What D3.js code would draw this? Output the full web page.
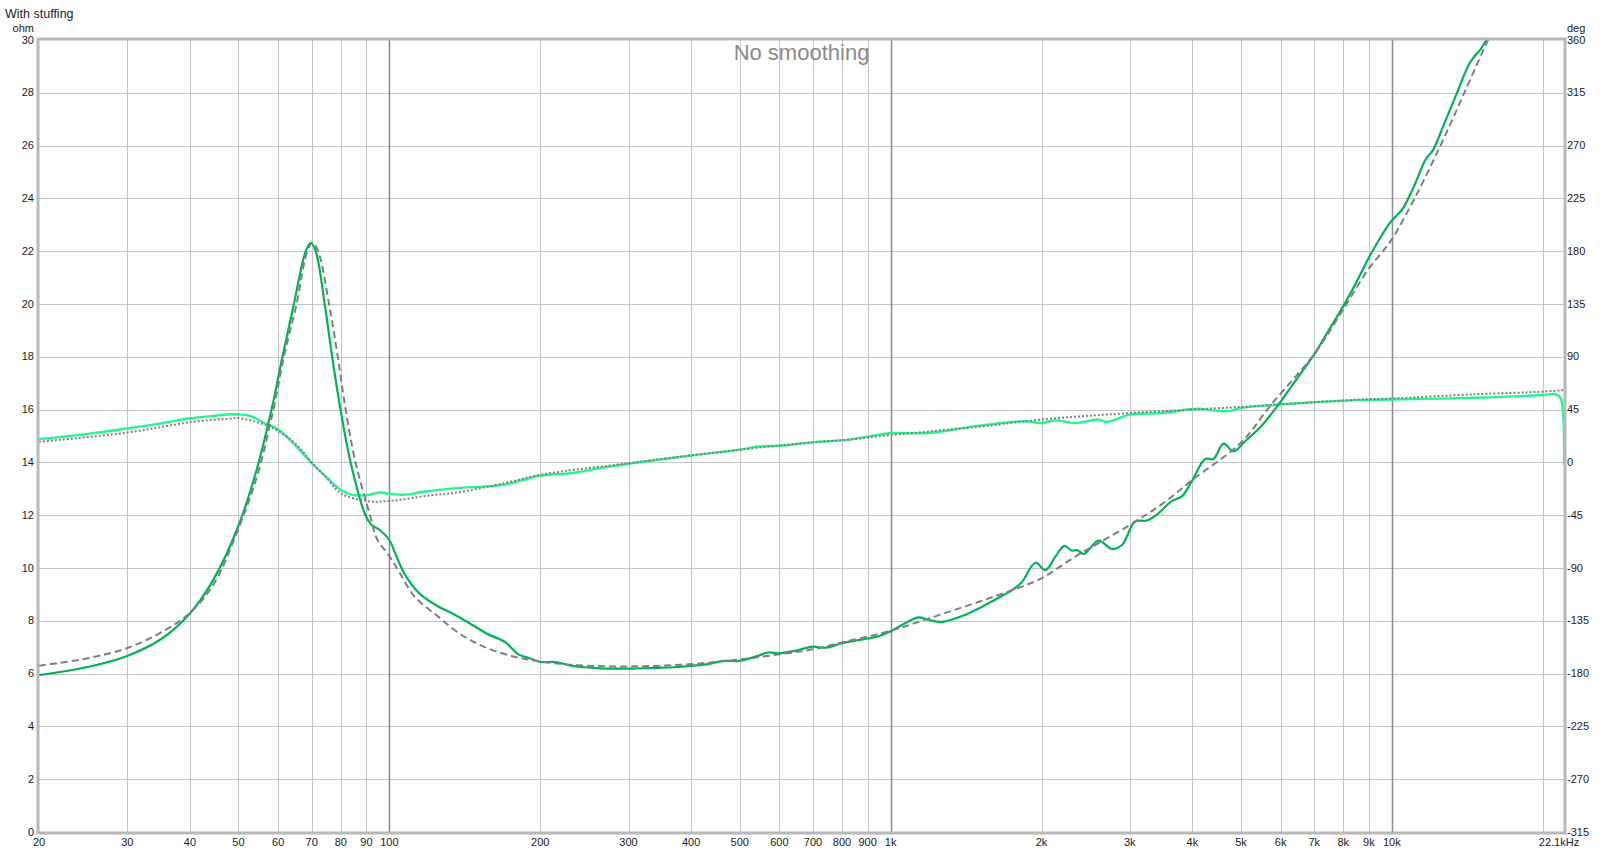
<!DOCTYPE html>
<html>
<head>
<meta charset="utf-8">
<script src="https://cdn.jsdelivr.net/npm/d3@7"></script>
<style>
  html, body { margin: 0; padding: 0; background: #fff; }
  svg { display: block; font-family: "Liberation Sans", Arial, sans-serif; }
</style>
</head>
<body>
<svg id="chart" width="1603" height="853"></svg>
<script>
// ---------- data ----------
const magFreq = [20,25,30,35,40,44.6,50,54.5,58.2,61.2,64.5,68.1,69.7,71.3,74.3,76.9,79.9,83.7,89.6,92,95.7,100,103,106.7,111,115.3,124.7,134.7,145.6,157.3,170,180.8,189.4,200,214.4,231.7,250.4,270.6,300,341.5,369,400,431,466,500,543,569,600,643,700,741,800,900,948,1000,1071,1139,1192,1267,1389,1499,1619,1747,1830,1944,2036,2132,2221,2300,2355,2428,2600,2764,2894,3075,3245,3427,3640,3810,3987,4242,4407,4616,4831,5095,5500,5946,6450,7000,7400,8000,8490,9000,9450,9820,10000,10500,11010,11700,12070,12640,13430,14280,14720,14990,15460,16000];
const magOhm = [5.94,6.25,6.67,7.3,8.28,9.57,11.6,13.8,16.0,18.0,20.0,22.0,22.32,22.0,20.0,18.0,16.0,14.0,12.0,11.65,11.44,11.06,10.5,9.85,9.35,9.0,8.56,8.24,7.87,7.49,7.2,6.73,6.6,6.44,6.44,6.29,6.23,6.19,6.19,6.22,6.24,6.29,6.36,6.48,6.48,6.67,6.8,6.77,6.86,7.02,6.98,7.15,7.33,7.42,7.6,7.92,8.13,8.03,7.96,8.18,8.47,8.81,9.16,9.48,10.2,9.92,10.43,10.84,10.66,10.68,10.53,11.04,10.72,10.87,11.76,11.8,12.08,12.54,12.71,13.28,14.13,14.13,14.71,14.42,14.8,15.39,16.2,17.14,18.09,18.85,19.92,20.81,21.76,22.46,22.97,23.16,23.6,24.36,25.5,25.82,26.7,27.91,29.11,29.45,29.62,30.04,30.8];

const modelFreq = [20,25,30,35,40,44.6,50,54.5,58.7,61.6,65.3,68.6,70.3,72.1,75.8,78.9,81.8,85.6,91.5,94.5,100,105,112,124.7,137,152.5,175,200,231.7,300,400,500,600,700,800,1000,1192,1499,1747,2000,2335,3000,3500,4000,5000,5750,7000,8000,9000,9600,10000,11100,12500,13950,15550,16500];
const modelOhm = [6.3,6.58,6.97,7.55,8.3,9.38,11.5,13.5,16.0,18.0,20.0,22.0,22.32,22.0,20.0,18.0,16.0,14.0,12.0,11.1,10.45,9.8,8.94,8.18,7.56,7.06,6.67,6.46,6.33,6.27,6.36,6.54,6.73,6.92,7.18,7.62,8.09,8.72,9.16,9.61,10.43,11.63,12.46,13.34,14.75,16.2,18.1,19.8,21.35,22.0,22.45,24.0,26.0,28.0,30.0,31.0];

const phaseFreq = [20,25,30,35,40,45,48.2,50,52.9,56.2,60,65.2,70,75.3,80,84.6,90,95.7,100,105,110.6,115,121.5,134.7,170,183.6,200,231.7,270.6,300,400,500,543,600,700,826,948,1000,1192,1499,1858,2000,2132,2335,2600,2700,3000,3470,4100,4400,4720,5000,5950,8620,10000,14720,20000,21200,21700,22050];
const phaseDeg = [19.8,24.3,29.0,33.3,37.6,39.8,41.0,41.0,39.4,33.8,28.1,13.7,-0.7,-13.5,-23.6,-27.9,-27.9,-25.7,-26.8,-27.5,-27.0,-25.4,-24.1,-22.1,-18.9,-15.3,-11.3,-9.0,-4.0,-1.1,5.9,10.8,13.5,14.2,17.1,19.4,23.6,25.0,25.0,31.3,35.1,33.5,35.8,33.5,36.5,34.4,40.7,42.1,45.7,44.3,43.7,46.4,49.3,53.1,53.6,55.1,57.4,58.1,55.0,-2.0];

const phaseModelFreq = [20,30,40,48.2,50,56.2,60,65,70,75,80,90,100,121.5,134.7,170,200,300,400,500,700,826,948,1500,2000,3000,5000,8620,10000,14720,20000,22050];
const phaseModelDeg = [17.6,25.4,34.2,37.4,37.8,32.4,26.8,15.8,0.0,-13.5,-26.3,-32.9,-32.9,-27.9,-26.1,-17.6,-10.6,-0.7,5.9,10.8,17.1,19.4,22.3,30.4,36.5,42.1,47.3,53.6,54.5,58.1,60.3,61.7];

const xTickValues = [20,30,40,50,60,70,80,90,100,200,300,400,500,600,700,800,900,1000,2000,3000,4000,5000,6000,7000,8000,9000,10000,22050];
const xTickLabels = ["20","30","40","50","60","70","80","90","100","200","300","400","500","600","700","800","900","1k","2k","3k","4k","5k","6k","7k","8k","9k","10k","22.1kHz"];
const xGridValues = [30,40,50,60,70,80,90,100,200,300,400,500,600,700,800,900,1000,2000,3000,4000,5000,6000,7000,8000,9000,10000,20000];
const xMajorGrid = [100,1000,10000];
const yTickValues = [0,2,4,6,8,10,12,14,16,18,20,22,24,26,28,30];
const y2TickValues = [-315,-270,-225,-180,-135,-90,-45,0,45,90,135,180,225,270,315,360];

const title = "With stuffing";
const smoothingLabel = "No smoothing";
const yUnit = "ohm";
const y2Unit = "deg";

// ---------- layout ----------
const L = 39, R = 1564, T = 40, B = 832;
const svg = d3.select("#chart");

const x = d3.scaleLog().domain([20, 22050]).range([L, R]);
const y = d3.scaleLinear().domain([0, 30]).range([B, T]);
const y2 = d3.scaleLinear().domain([-315, 360]).range([B, T]);

// grid
const grid = svg.append("g");
grid.selectAll("line.h").data(yTickValues.filter(v => v > 0 && v < 30)).join("line")
  .attr("x1", L).attr("x2", R)
  .attr("y1", d => Math.round(y(d)) + 0.5).attr("y2", d => Math.round(y(d)) + 0.5)
  .attr("stroke", "#c4c4c4").attr("stroke-width", 1);
grid.selectAll("line.v").data(xGridValues).join("line")
  .attr("x1", d => Math.round(x(d)) + 0.5).attr("x2", d => Math.round(x(d)) + 0.5)
  .attr("y1", T).attr("y2", B)
  .attr("stroke", d => xMajorGrid.includes(d) ? "#8a8a8a" : "#c4c4c4")
  .attr("stroke-width", d => xMajorGrid.includes(d) ? 1.5 : 1);

// title texts
svg.append("text").attr("x", 5).attr("y", 18).attr("font-size", 12.5).attr("fill", "#1a1a2a").text(title);
svg.append("text").attr("x", (L + R) / 2).attr("y", 60).attr("text-anchor", "middle")
  .attr("font-size", 22).attr("fill", "#8a8a8a").text(smoothingLabel);

// clip
svg.append("clipPath").attr("id", "plotclip").append("rect")
  .attr("x", L).attr("y", T).attr("width", R - L).attr("height", B - T);
const plot = svg.append("g").attr("clip-path", "url(#plotclip)");

const zip = (a, b) => a.map((v, i) => [v, b[i]]);
const lineL = d3.line().x(d => x(d[0])).y(d => y(d[1])).curve(d3.curveCatmullRom.alpha(0.5));
const lineR = d3.line().x(d => x(d[0])).y(d => y2(d[1])).curve(d3.curveCatmullRom.alpha(0.5));

plot.append("path").datum(zip(phaseFreq, phaseDeg)).attr("d", lineR)
  .attr("fill", "none").attr("stroke", "#22f78f").attr("stroke-width", 2.4).attr("stroke-linejoin", "round");
plot.append("path").datum(zip(phaseModelFreq, phaseModelDeg)).attr("d", lineR)
  .attr("fill", "none").attr("stroke", "#7f7f7f").attr("stroke-width", 2).attr("stroke-dasharray", "2,2");
plot.append("path").datum(zip(magFreq, magOhm)).attr("d", lineL)
  .attr("fill", "none").attr("stroke", "#00b356").attr("stroke-width", 2.2).attr("stroke-linejoin", "round");
plot.append("path").datum(zip(modelFreq, modelOhm)).attr("d", lineL)
  .attr("fill", "none").attr("stroke", "#7f7f7f").attr("stroke-width", 2).attr("stroke-dasharray", "7,4");

// border
svg.append("rect").attr("x", L - 1).attr("y", T - 1).attr("width", R - L + 2).attr("height", B - T + 2)
  .attr("fill", "none").attr("stroke", "#b8b8b8").attr("stroke-width", 3);

// axes labels
const fs = 11;
const ax = svg.append("g").attr("font-size", fs).attr("fill", "#1a1a1a");
ax.selectAll("text.yl").data(yTickValues).join("text")
  .attr("x", 34).attr("y", d => y(d)).attr("dy", "0.33em").attr("text-anchor", "end").text(d => d);
ax.selectAll("text.yr").data(y2TickValues).join("text")
  .attr("x", 1567).attr("y", d => y2(d)).attr("dy", "0.33em").attr("text-anchor", "start").text(d => d);
ax.append("text").attr("x", 34).attr("y", 31).attr("dy", "0.1em").attr("text-anchor", "end").text(yUnit);
ax.append("text").attr("x", 1567).attr("y", 31).attr("dy", "0.1em").attr("text-anchor", "start").text(y2Unit);
ax.selectAll("text.xl").data(xTickValues).join("text")
  .attr("x", (d, i) => i === xTickValues.length - 1 ? x(d) - 5 : x(d))
  .attr("y", 846).attr("text-anchor", "middle").text((d, i) => xTickLabels[i]);
</script>
</body>
</html>
